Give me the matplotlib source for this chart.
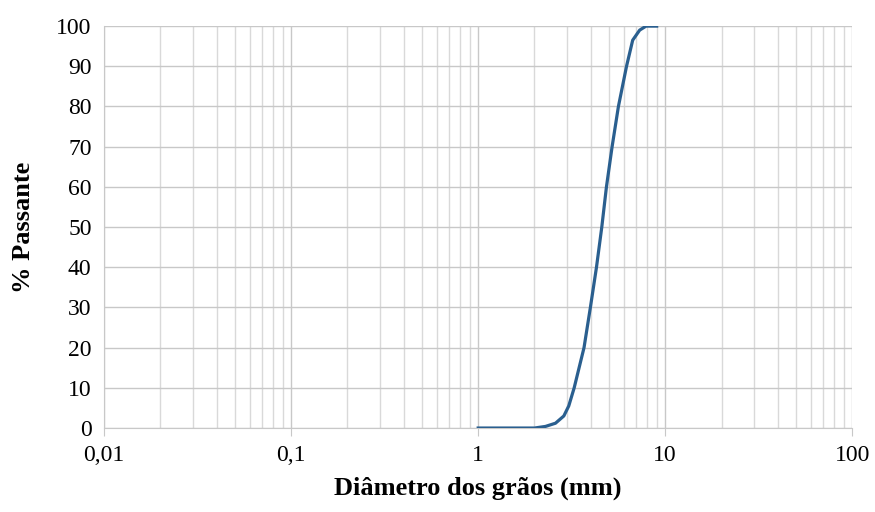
import matplotlib
matplotlib.use("Agg")
import matplotlib.pyplot as plt
from matplotlib.ticker import FixedLocator, LogLocator, NullFormatter

# curva granulométrica
diametro = [1.0, 1.5, 2.0, 2.29, 2.59, 2.87, 3.05, 3.26, 3.68, 3.98, 4.29,
            4.58, 4.85, 5.2, 5.62, 6.21, 6.7, 7.3, 7.9, 9.0]
passante = [0.0, 0.0, 0.0, 0.4, 1.2, 3.0, 5.5, 10.0, 20.0, 30.0, 40.0,
            50.0, 60.0, 70.0, 80.0, 90.0, 96.5, 99.0, 100.0, 100.0]

x_ticks = [0.01, 0.1, 1, 10, 100]
x_labels = ["0,01", "0,1", "1", "10", "100"]
y_ticks = list(range(0, 101, 10))

plt.rcParams['font.family'] = ['Liberation Serif', 'DejaVu Serif']

fig = plt.figure(figsize=(8.75, 5.12), dpi=100)
ax = fig.add_axes([0.119, 0.164, 0.855, 0.785])

ax.plot(diametro, passante, color='#2a5f8f', linewidth=2.3, zorder=3,
        solid_joinstyle='round')

ax.set_xscale('log')
ax.set_xlim(0.01, 100)
ax.set_ylim(0, 100)
ax.xaxis.set_major_locator(FixedLocator(x_ticks))
ax.set_xticklabels(x_labels)
ax.xaxis.set_minor_locator(LogLocator(base=10, subs=range(2, 10)))
ax.xaxis.set_minor_formatter(NullFormatter())
ax.set_yticks(y_ticks)

ax.grid(which='major', axis='both', color='#c8c8c8', linewidth=1.0)
ax.grid(which='minor', axis='x', color='#d9d9d9', linewidth=1.0)
ax.set_axisbelow(True)

for s in ['top', 'right']:
    ax.spines[s].set_visible(False)
ax.spines['left'].set_color('#c8c8c8')
ax.spines['bottom'].set_color('#c8c8c8')

ax.tick_params(axis='x', which='major', length=6, color='#c8c8c8',
               labelsize=17, pad=6)
ax.tick_params(axis='x', which='minor', length=0)
ax.tick_params(axis='y', length=0, labelsize=17, pad=9)

ax.set_xlabel("Diâmetro dos grãos (mm)", fontsize=19, fontweight='bold', labelpad=8)
ax.set_ylabel("% Passante", fontsize=19, fontweight='bold', labelpad=15)

fig.savefig("out.png", dpi=100)
